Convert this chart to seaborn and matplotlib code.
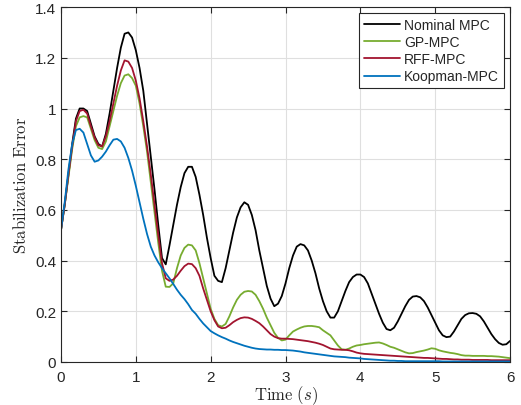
import pandas as pd
import matplotlib
matplotlib.use("Agg")
import matplotlib.pyplot as plt
import seaborn as sns

# Time axis (s), sampled every 0.05 s from 0 to 6
time = [round(0.05 * i, 2) for i in range(121)]

nominal_mpc = [
    0.52, 0.62, 0.74, 0.86, 0.96, 1.00, 1.00, 0.99, 0.94, 0.89,
    0.86, 0.85, 0.90, 0.98, 1.07, 1.16, 1.24, 1.295, 1.30, 1.28,
    1.23, 1.16, 1.07, 0.94, 0.81, 0.68, 0.54, 0.41, 0.385, 0.46,
    0.54, 0.62, 0.69, 0.745, 0.77, 0.77, 0.73, 0.66, 0.58, 0.49,
    0.41, 0.34, 0.32, 0.315, 0.37, 0.44, 0.51, 0.57, 0.61, 0.63,
    0.62, 0.58, 0.52, 0.44, 0.37, 0.30, 0.25, 0.22, 0.23, 0.26,
    0.31, 0.37, 0.42, 0.455, 0.465, 0.46, 0.44, 0.40, 0.35, 0.29,
    0.24, 0.20, 0.175, 0.175, 0.20, 0.24, 0.28, 0.315, 0.335, 0.345,
    0.345, 0.335, 0.31, 0.27, 0.23, 0.19, 0.155, 0.13, 0.125, 0.135,
    0.16, 0.19, 0.22, 0.245, 0.258, 0.26, 0.255, 0.24, 0.215, 0.185,
    0.155, 0.125, 0.105, 0.098, 0.10, 0.12, 0.145, 0.17, 0.185, 0.192,
    0.193, 0.19, 0.18, 0.16, 0.135, 0.11, 0.09, 0.075, 0.068, 0.07,
    0.083,
]
gp_mpc = [
    0.52, 0.62, 0.73, 0.84, 0.93, 0.965, 0.97, 0.965, 0.92, 0.875,
    0.845, 0.84, 0.87, 0.93, 0.99, 1.05, 1.10, 1.13, 1.135, 1.12,
    1.09, 1.02, 0.93, 0.83, 0.71, 0.59, 0.47, 0.36, 0.297, 0.296,
    0.31, 0.37, 0.42, 0.45, 0.463, 0.46, 0.44, 0.39, 0.33, 0.27,
    0.21, 0.17, 0.145, 0.14, 0.15, 0.18, 0.215, 0.245, 0.265, 0.277,
    0.28, 0.278, 0.265, 0.24, 0.21, 0.175, 0.145, 0.115, 0.095, 0.085,
    0.088, 0.105, 0.12, 0.128, 0.135, 0.14, 0.142, 0.142, 0.14, 0.137,
    0.125, 0.115, 0.105, 0.085, 0.065, 0.05, 0.048, 0.053, 0.06, 0.065,
    0.067, 0.07, 0.072, 0.074, 0.076, 0.077, 0.073, 0.067, 0.06, 0.056,
    0.05, 0.044, 0.038, 0.034, 0.035, 0.039, 0.042, 0.045, 0.049, 0.054,
    0.052, 0.046, 0.042, 0.039, 0.036, 0.034, 0.031, 0.027, 0.025, 0.025,
    0.024, 0.024, 0.024, 0.024, 0.023, 0.023, 0.022, 0.021, 0.019, 0.017,
    0.015,
]
rff_mpc = [
    0.52, 0.62, 0.74, 0.85, 0.95, 0.99, 0.995, 0.98, 0.93, 0.885,
    0.855, 0.85, 0.89, 0.95, 1.02, 1.09, 1.15, 1.19, 1.185, 1.16,
    1.11, 1.04, 0.95, 0.85, 0.74, 0.62, 0.50, 0.39, 0.33, 0.32,
    0.325, 0.34, 0.36, 0.378, 0.388, 0.386, 0.37, 0.34, 0.29, 0.245,
    0.20, 0.165, 0.14, 0.133, 0.135, 0.145, 0.157, 0.166, 0.173, 0.176,
    0.175, 0.17, 0.162, 0.153, 0.14, 0.125, 0.11, 0.10, 0.094, 0.092,
    0.092, 0.091, 0.09, 0.088, 0.086, 0.084, 0.082, 0.079, 0.076, 0.072,
    0.067, 0.06, 0.053, 0.05, 0.049, 0.048, 0.048, 0.046, 0.042, 0.037,
    0.034, 0.032, 0.031, 0.03, 0.029, 0.028, 0.027, 0.026, 0.025, 0.024,
    0.023, 0.022, 0.021, 0.02, 0.019, 0.018, 0.017, 0.016, 0.016, 0.015,
    0.014, 0.013, 0.012, 0.012, 0.011, 0.01, 0.01, 0.009, 0.009, 0.009,
    0.008, 0.008, 0.008, 0.008, 0.008, 0.007, 0.007, 0.007, 0.007, 0.007,
    0.007,
]
koopman_mpc = [
    0.52, 0.63, 0.76, 0.86, 0.915, 0.92, 0.905, 0.86, 0.815, 0.79,
    0.795, 0.81, 0.83, 0.855, 0.877, 0.88, 0.87, 0.845, 0.805, 0.755,
    0.695, 0.63, 0.565, 0.505, 0.455, 0.42, 0.393, 0.37, 0.35, 0.33,
    0.308, 0.285, 0.265, 0.248, 0.228, 0.205, 0.19, 0.17, 0.152, 0.137,
    0.122, 0.113, 0.105, 0.098, 0.092, 0.085, 0.079, 0.074, 0.069, 0.064,
    0.06, 0.056, 0.053, 0.051, 0.05, 0.049, 0.049, 0.048, 0.048, 0.047,
    0.047, 0.046, 0.045, 0.043, 0.041, 0.038, 0.036, 0.034, 0.032, 0.03,
    0.028, 0.026, 0.024, 0.022, 0.021, 0.02, 0.019, 0.017, 0.016, 0.015,
    0.014, 0.012, 0.011, 0.01, 0.009, 0.008, 0.007, 0.006, 0.005, 0.005,
    0.004, 0.004, 0.003, 0.003, 0.003, 0.003, 0.003, 0.003, 0.003, 0.003,
    0.003, 0.003, 0.002, 0.002, 0.002, 0.002, 0.002, 0.002, 0.002, 0.002,
    0.002, 0.002, 0.002, 0.002, 0.002, 0.002, 0.002, 0.002, 0.002, 0.002,
    0.002,
]

methods = ["Nominal MPC", "GP-MPC", "RFF-MPC", "Koopman-MPC"]
PALETTE = {
    "Nominal MPC": "#000000",
    "GP-MPC":      "#77AC30",
    "RFF-MPC":     "#A2142F",
    "Koopman-MPC": "#0072BD",
}

df = pd.concat([
    pd.DataFrame({"time": time, "error": vals, "method": name})
    for name, vals in zip(methods, [nominal_mpc, gp_mpc, rff_mpc, koopman_mpc])
])

sns.set_style("ticks")
plt.rcParams["font.family"] = ["Liberation Sans", "DejaVu Sans"]
plt.rcParams["mathtext.fontset"] = "cm"

fig = plt.figure(figsize=(5.21, 4.06), dpi=100)
ax = fig.add_axes([0.117, 0.106, 0.862, 0.874])

sns.lineplot(data=df, x="time", y="error", hue="method", hue_order=methods,
             palette=PALETTE, linewidth=1.3, ax=ax)

ax.set_xlim(0, 6)
ax.set_ylim(0, 1.4)
ax.set_xticks([0, 1, 2, 3, 4, 5, 6])
ax.set_yticks([0, 0.2, 0.4, 0.6, 0.8, 1.0, 1.2, 1.4])
ax.set_yticklabels(["0", "0.2", "0.4", "0.6", "0.8", "1", "1.2", "1.4"])
ax.grid(True, color="#dfdfdf", linewidth=0.8)
ax.set_axisbelow(True)

for side in ["top", "right", "bottom", "left"]:
    ax.spines[side].set_visible(True)
    ax.spines[side].set_color("#262626")
    ax.spines[side].set_linewidth(0.8)
ax.tick_params(direction="in", top=True, right=True, length=4,
               colors="#262626", labelsize=11, width=0.8)
ax.tick_params(axis="x", pad=6)

ax.set_xlabel(r"$\mathrm{Time}\ (s)$", fontsize=12, color="#262626", labelpad=-1)
ax.set_ylabel(r"$\mathrm{Stabilization\ Error}$", fontsize=12, color="#262626", labelpad=4)

leg = ax.legend(loc="upper right", fontsize=10, frameon=True, fancybox=False,
                borderaxespad=0.45, handlelength=2.6, handletextpad=0.3,
                labelspacing=0.22, borderpad=0.35)
leg.get_frame().set_edgecolor("#262626")
leg.get_frame().set_linewidth(0.8)
leg.get_frame().set_alpha(1)

fig.savefig("out.png", dpi=100)
